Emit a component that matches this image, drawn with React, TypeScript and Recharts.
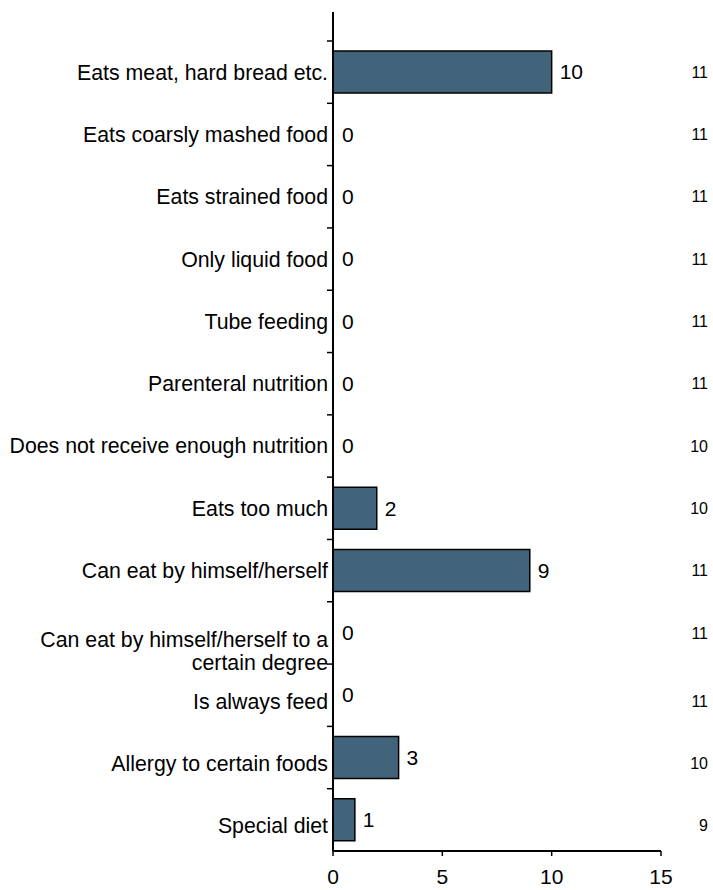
import React from "react";
import { BarChart, Bar, XAxis, YAxis, LabelList } from "recharts";

// Feeding / nutrition items, counted among respondents
const categories = [
  "Eats meat, hard bread etc.",
  "Eats coarsly mashed food",
  "Eats strained food",
  "Only liquid food",
  "Tube feeding",
  "Parenteral nutrition",
  "Does not receive enough nutrition",
  "Eats too much",
  "Can eat by himself/herself",
  "Can eat by himself/herself to a\ncertain degree",
  "Is always feed",
  "Allergy to certain foods",
  "Special diet",
];
const counts = [10, 0, 0, 0, 0, 0, 0, 2, 9, 0, 0, 3, 1];
// number of answers per item, shown at the right edge
const respondents = [11, 11, 11, 11, 11, 11, 10, 10, 11, 11, 11, 10, 9];
const xTicks = [0, 5, 10, 15];

const W = 713;
const H = 890;
const TOP = 12;
const X_AXIS_H = 39;
const PAD_TOP = 29;
const BAND = (H - X_AXIS_H - TOP - PAD_TOP) / categories.length;
const FONT = "'Liberation Sans', Arial, sans-serif";
const BAR_FILL = "#41647a";

const data = categories.map((label, i) => ({ label, count: counts[i], n: respondents[i] }));
const wrapAt = categories.findIndex((c) => c.includes("\n"));
const shiftFor = (i: number) => (wrapAt >= 0 && i > wrapAt ? 6 : 0);

// Left category label plus a small tick mark on the band boundary above it
const CategoryTick = (props: any) => {
  const { x, y, payload, index } = props;
  const lines = String(payload.value).split("\n");
  const top = y - BAND / 2;
  return (
    <g>
      <line x1={x - 1} x2={x + 5} y1={top} y2={top} stroke="#000" strokeWidth={1.5} />
      {lines.length > 1 ? (
        <text x={x} y={y + 7} textAnchor="end" fontSize={21.3} fill="#000" fontFamily={FONT}>
          {lines.map((ln, k) => (
            <tspan key={k} x={x} dy={k === 0 ? "0.35em" : 23}>{ln}</tspan>
          ))}
        </text>
      ) : (
        <text x={x} y={y + shiftFor(index)} dy="0.35em" textAnchor="end" fontSize={21.3} fill="#000" fontFamily={FONT}>
          {lines[0]}
        </text>
      )}
    </g>
  );
};

const CountTick = (props: any) => {
  const { x, y, index } = props;
  return (
    <text x={x + 47} y={y + shiftFor(index)} dy="0.35em" textAnchor="end" fontSize={16} fill="#000" fontFamily={FONT}>
      {respondents[index]}
    </text>
  );
};

// value written just past the end of each bar, zeros included
const ValueLabel = (props: any) => {
  const { x, y, width, height, value } = props;
  return (
    <text x={Number(x) + Number(width) + 8} y={Number(y) + Number(height) / 2} dy="0.35em" fontSize={21} fill="#000" fontFamily={FONT}>
      {String(value)}
    </text>
  );
};

export default function App() {
  return (
    <div style={{ width: W, height: H, background: "#fff" }}>
      <style>{`body{margin:0}`}</style>
      <BarChart
        width={W}
        height={H}
        data={data}
        layout="vertical"
        margin={{ top: TOP, right: 0, bottom: 0, left: 0 }}
        style={{ fontFamily: FONT }}
      >
        <XAxis
          type="number"
          domain={[0, 15]}
          ticks={xTicks}
          height={X_AXIS_H}
          tickSize={5}
          tickMargin={13}
          axisLine={{ stroke: "#000", strokeWidth: 2 }}
          tickLine={{ stroke: "#000", strokeWidth: 1.5 }}
          tick={{ fill: "#000", fontSize: 21 }}
        />
        <YAxis
          type="category"
          dataKey="label"
          width={333}
          padding={{ top: PAD_TOP, bottom: 0 }}
          tickSize={0}
          tickMargin={5}
          tickLine={false}
          axisLine={{ stroke: "#000", strokeWidth: 2 }}
          tick={(p: any) => <CategoryTick {...p} />}
          interval={0}
        />
        <YAxis
          yAxisId="n"
          orientation="right"
          type="category"
          dataKey="label"
          width={52}
          padding={{ top: PAD_TOP, bottom: 0 }}
          tickSize={0}
          tickMargin={0}
          tickLine={false}
          axisLine={false}
          tick={(p: any) => <CountTick {...p} />}
          interval={0}
        />
        <Bar dataKey="count" barSize={42} fill={BAR_FILL} stroke="#000" strokeWidth={1.5} isAnimationActive={false} />
        {/* unfilled twin of the bars that carries the value labels, so zero counts get one too */}
        <Bar
          yAxisId="n"
          dataKey="count"
          barSize={42}
          minPointSize={1}
          fill="none"
          stroke="none"
          isAnimationActive={false}
        >
          <LabelList dataKey="count" content={(p: any) => <ValueLabel {...p} />} />
        </Bar>
      </BarChart>
    </div>
  );
}
